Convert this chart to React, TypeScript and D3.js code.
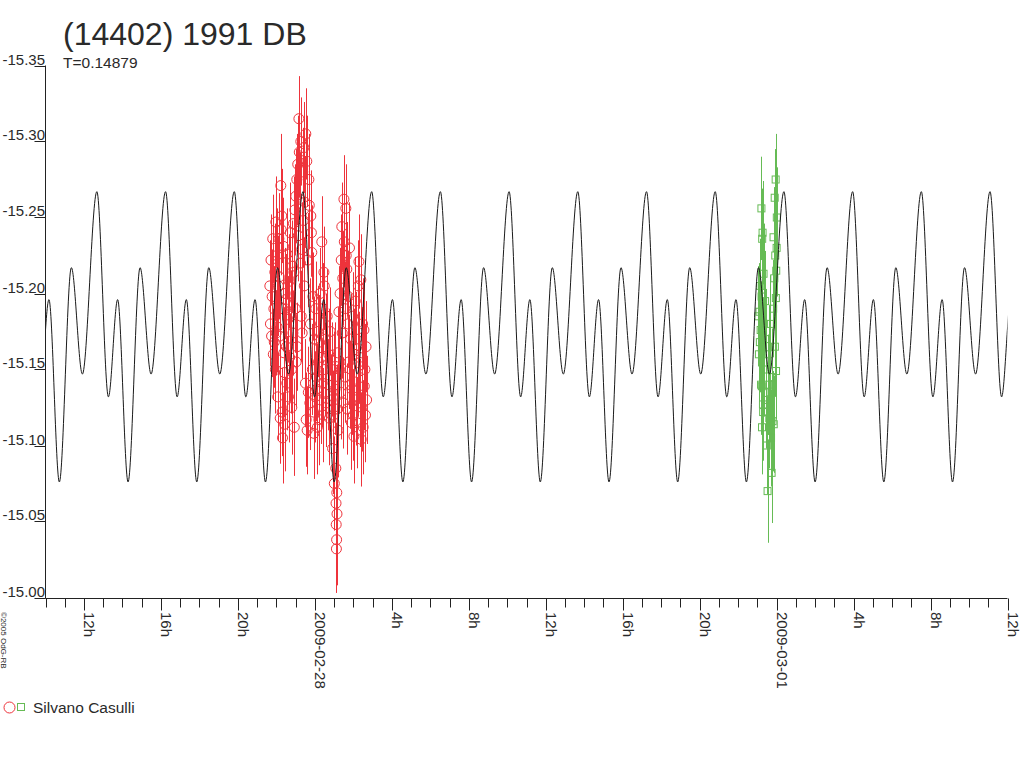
import React from "react";
import * as d3 from "d3";

// ---------- data ----------
const TITLE = "(14402) 1991 DB";
const PERIOD_DAYS = 0.14879;
const SUBTITLE = "T=0.14879";
const OBSERVER = "Silvano Casulli";
const COPYRIGHT = "©2005 OdG-RB";

const AXIS_START = "2009-02-27T10:00:00Z";
const AXIS_END = "2009-03-01T12:00:00Z";
const Y_MIN = -15.0;
const Y_MAX = -15.35;

// model light curve: one period, [hours after deep minimum, magnitude]
const MODEL_EPOCH_HOURS = 0.72; // deep minimum, hours after AXIS_START
const MODEL_PERIOD: [number, number][] = [
  [0, -15.076],
  [0.624, -15.217],
  [1.197, -15.147],
  [1.95, -15.267],
  [2.55, -15.132],
  [3.03, -15.196],
];

// session 1 (red circles): [hours from 2009-02-28 00:00 UT, mag, error]
const SESSION1_BASE = "2009-02-28T00:00:00Z";
const session1: [number, number, number][] = [
  [-2.34, -15.205, 0.03], [-2.31, -15.18, 0.028], [-2.28, -15.222, 0.03], [-2.25, -15.172, 0.027],
  [-2.22, -15.198, 0.031], [-2.19, -15.236, 0.029], [-2.16, -15.16, 0.03], [-2.13, -15.19, 0.028],
  [-2.11, -15.168, 0.03], [-2.08, -15.214, 0.032], [-2.05, -15.15, 0.029], [-2.03, -15.247, 0.03],
  [-2.01, -15.174, 0.028], [-1.98, -15.225, 0.031], [-1.96, -15.178, 0.03], [-1.93, -15.132, 0.029],
  [-1.9, -15.205, 0.033], [-1.87, -15.236, 0.03], [-1.85, -15.211, 0.028], [-1.83, -15.172, 0.031],
  [-1.8, -15.118, 0.03], [-1.77, -15.271, 0.034], [-1.75, -15.242, 0.03], [-1.72, -15.251, 0.031],
  [-1.7, -15.122, 0.029], [-1.68, -15.105, 0.03], [-1.66, -15.19, 0.028], [-1.63, -15.231, 0.032],
  [-1.61, -15.161, 0.03], [-1.59, -15.148, 0.029], [-1.57, -15.114, 0.031], [-1.54, -15.2, 0.03],
  [-1.51, -15.196, 0.03], [-1.48, -15.165, 0.029], [-1.46, -15.141, 0.031], [-1.43, -15.226, 0.03],
  [-1.4, -15.183, 0.028], [-1.37, -15.132, 0.03], [-1.34, -15.208, 0.031], [-1.31, -15.158, 0.029],
  [-1.28, -15.24, 0.033], [-1.25, -15.185, 0.03], [-1.22, -15.15, 0.029], [-1.2, -15.125, 0.031],
  [-1.17, -15.218, 0.03], [-1.14, -15.174, 0.028], [-1.11, -15.246, 0.031], [-1.09, -15.214, 0.03],
  [-1.07, -15.112, 0.032], [-1.04, -15.255, 0.03], [-1.01, -15.19, 0.029], [-0.99, -15.264, 0.031],
  [-0.97, -15.155, 0.03], [-0.94, -15.275, 0.03], [-0.92, -15.165, 0.029], [-0.89, -15.285, 0.032],
  [-0.86, -15.238, 0.03], [-0.83, -15.315, 0.028], [-0.81, -15.293, 0.03], [-0.78, -15.262, 0.031],
  [-0.75, -15.22, 0.03], [-0.73, -15.3, 0.029], [-0.71, -15.185, 0.03], [-0.68, -15.229, 0.031],
  [-0.66, -15.174, 0.03], [-0.63, -15.28, 0.029], [-0.6, -15.248, 0.031], [-0.57, -15.296, 0.03],
  [-0.55, -15.205, 0.032], [-0.52, -15.26, 0.03], [-0.49, -15.141, 0.029], [-0.47, -15.305, 0.03],
  [-0.45, -15.117, 0.031], [-0.42, -15.287, 0.03], [-0.4, -15.11, 0.029], [-0.37, -15.222, 0.031],
  [-0.34, -15.135, 0.03], [-0.31, -15.275, 0.03], [-0.29, -15.258, 0.029], [-0.26, -15.128, 0.031],
  [-0.23, -15.18, 0.03], [-0.21, -15.251, 0.03], [-0.18, -15.24, 0.029], [-0.16, -15.227, 0.031],
  [-0.13, -15.15, 0.03], [-0.1, -15.198, 0.029], [-0.07, -15.122, 0.031], [-0.05, -15.108, 0.03],
  [-0.02, -15.17, 0.028], [0.02, -15.132, 0.03], [0.05, -15.19, 0.031], [0.08, -15.145, 0.029],
  [0.1, -15.137, 0.03], [0.13, -15.112, 0.031], [0.16, -15.175, 0.03], [0.19, -15.155, 0.029],
  [0.21, -15.117, 0.03], [0.24, -15.168, 0.031], [0.27, -15.2, 0.03], [0.3, -15.13, 0.029],
  [0.33, -15.158, 0.031], [0.36, -15.234, 0.03], [0.38, -15.141, 0.029], [0.41, -15.19, 0.03],
  [0.44, -15.12, 0.031], [0.47, -15.214, 0.03], [0.49, -15.205, 0.029], [0.52, -15.15, 0.031],
  [0.56, -15.17, 0.03], [0.6, -15.128, 0.029], [0.64, -15.185, 0.031], [0.68, -15.14, 0.03],
  [0.72, -15.16, 0.03], [0.76, -15.118, 0.031], [0.8, -15.175, 0.029], [0.84, -15.13, 0.03],
  [0.88, -15.15, 0.031], [0.92, -15.098, 0.03], [0.96, -15.12, 0.029], [0.99, -15.145, 0.03],
  [1.01, -15.075, 0.031], [1.04, -15.137, 0.03], [1.07, -15.152, 0.029], [1.09, -15.085, 0.03],
  [1.1, -15.062, 0.028], [1.11, -15.048, 0.03], [1.12, -15.032, 0.029], [1.13, -15.038, 0.03],
  [1.14, -15.069, 0.031], [1.15, -15.055, 0.03], [1.16, -15.124, 0.029], [1.18, -15.161, 0.03],
  [1.21, -15.11, 0.031], [1.25, -15.188, 0.03], [1.28, -15.15, 0.029], [1.31, -15.2, 0.03],
  [1.34, -15.135, 0.031], [1.37, -15.222, 0.03], [1.4, -15.244, 0.029], [1.42, -15.174, 0.03],
  [1.45, -15.21, 0.031], [1.48, -15.128, 0.03], [1.51, -15.262, 0.029], [1.53, -15.234, 0.03],
  [1.56, -15.19, 0.031], [1.58, -15.145, 0.03], [1.61, -15.256, 0.029], [1.63, -15.225, 0.03],
  [1.66, -15.216, 0.031], [1.68, -15.124, 0.03], [1.71, -15.18, 0.029], [1.74, -15.198, 0.03],
  [1.77, -15.155, 0.031], [1.8, -15.23, 0.03], [1.83, -15.14, 0.029], [1.86, -15.17, 0.03],
  [1.9, -15.115, 0.031], [1.93, -15.137, 0.03], [1.96, -15.185, 0.029], [2.0, -15.12, 0.03],
  [2.03, -15.106, 0.031], [2.06, -15.16, 0.03], [2.1, -15.195, 0.029], [2.13, -15.13, 0.03],
  [2.16, -15.17, 0.031], [2.19, -15.115, 0.03], [2.22, -15.148, 0.029], [2.26, -15.205, 0.03],
  [2.29, -15.221, 0.031], [2.32, -15.158, 0.03], [2.35, -15.128, 0.029], [2.39, -15.209, 0.03],
  [2.41, -15.104, 0.031], [2.43, -15.161, 0.03], [2.45, -15.125, 0.029], [2.48, -15.18, 0.03],
  [2.51, -15.112, 0.031], [2.55, -15.176, 0.03], [2.57, -15.139, 0.029], [2.6, -15.15, 0.03],
  [2.63, -15.12, 0.031], [2.66, -15.165, 0.03], [2.69, -15.13, 0.029],
];

// session 2 (green squares): [hours from 2009-03-01 00:00 UT, mag, error]
const SESSION2_BASE = "2009-03-01T00:00:00Z";
const session2: [number, number, number][] = [
  [-0.95, -15.185, 0.033], [-0.92, -15.16, 0.031], [-0.89, -15.188, 0.032], [-0.87, -15.168, 0.033],
  [-0.85, -15.205, 0.031], [-0.83, -15.176, 0.032], [-0.81, -15.14, 0.033], [-0.79, -15.256, 0.034],
  [-0.78, -15.198, 0.032], [-0.77, -15.139, 0.033], [-0.76, -15.112, 0.031], [-0.75, -15.236, 0.033],
  [-0.73, -15.24, 0.034], [-0.72, -15.165, 0.032], [-0.71, -15.127, 0.033], [-0.7, -15.122, 0.032],
  [-0.68, -15.213, 0.033], [-0.66, -15.18, 0.032], [-0.63, -15.15, 0.031], [-0.6, -15.195, 0.033],
  [-0.57, -15.13, 0.032], [-0.54, -15.17, 0.033], [-0.51, -15.1, 0.032], [-0.47, -15.07, 0.034],
  [-0.44, -15.14, 0.033], [-0.41, -15.16, 0.032], [-0.38, -15.118, 0.033], [-0.35, -15.18, 0.032],
  [-0.32, -15.135, 0.033], [-0.29, -15.105, 0.032], [-0.26, -15.082, 0.033], [-0.24, -15.145, 0.032],
  [-0.21, -15.116, 0.033], [-0.18, -15.19, 0.032], [-0.16, -15.237, 0.033], [-0.15, -15.114, 0.032],
  [-0.12, -15.21, 0.033], [-0.1, -15.263, 0.032], [-0.09, -15.165, 0.033], [-0.07, -15.225, 0.032],
  [-0.05, -15.275, 0.03], [-0.04, -15.197, 0.033], [-0.03, -15.149, 0.032], [-0.02, -15.215, 0.033],
  [0.0, -15.23, 0.032], [0.01, -15.25, 0.033],
];

// ---------- styles ----------
const FONT = "'Liberation Sans', Arial, Helvetica, sans-serif";
const TEXT = "#2a2a2a";
const RED = "#ee333b";
const GREEN = "#66bb55";
const W = 1024;
const H = 768;
const LEFT = 45.5;
const RIGHT = 1007.5;
const TOP = 65.5;
const BOTTOM = 597.5;

const HOUR = 3600 * 1000;

export default function App() {
  const start = new Date(AXIS_START);
  const end = new Date(AXIS_END);
  const x = d3.scaleUtc().domain([start, end]).range([LEFT, RIGHT]);
  const y = d3.scaleLinear().domain([Y_MIN, Y_MAX]).range([BOTTOM, TOP]);

  const periodH = PERIOD_DAYS * 24;
  const modelPts: [Date, number][] = [];
  for (let k = -1; k <= 15; k++) {
    for (const [ph, m] of MODEL_PERIOD) {
      const t = start.getTime() + (MODEL_EPOCH_HOURS + k * periodH + ph) * HOUR;
      modelPts.push([new Date(t), m]);
    }
  }
  const line = d3
    .line<[Date, number]>()
    .x((d) => x(d[0]))
    .y((d) => y(d[1]))
    .curve(d3.curveMonotoneX);

  const b1 = new Date(SESSION1_BASE).getTime();
  const b2 = new Date(SESSION2_BASE).getTime();
  const s1 = session1.map(([h, m, e]) => ({ t: new Date(b1 + h * HOUR), m, e }));
  const s2 = session2.map(([h, m, e]) => ({ t: new Date(b2 + h * HOUR), m, e }));

  const hourTicks = x.ticks(d3.utcHour.every(1)!);
  const yTicks = y.ticks(7);

  const label = (d: Date) => {
    const hr = d.getUTCHours();
    return hr === 0 ? d3.utcFormat("%Y-%m-%d")(d) : `${hr}h`;
  };

  return (
    <svg
      width={W}
      height={H}
      viewBox={`0 0 ${W} ${H}`}
      style={{ position: "absolute", left: 0, top: 0, background: "#fff", display: "block" }}
      fontFamily={FONT}
    >
      <rect x={0} y={0} width={W} height={H} fill="#fff" />
      <defs>
        <clipPath id="plotclip">
          <rect x={LEFT} y={0} width={RIGHT - LEFT} height={H} />
        </clipPath>
      </defs>

      {/* title */}
      <text x={63} y={45} fontSize={32} fill={TEXT}>
        {TITLE}
      </text>
      <text x={63} y={68} fontSize={15.5} fill={TEXT}>
        {SUBTITLE}
      </text>

      {/* session 1 */}
      <g stroke={RED} fill="none" strokeWidth={1}>
        {s1.map((d, i) => (
          <line key={"e1" + i} x1={Math.round(x(d.t)) + 0.5} x2={Math.round(x(d.t)) + 0.5} y1={y(d.m - d.e)} y2={y(d.m + d.e)} />
        ))}
        {s1.map((d, i) => (
          <circle key={"c1" + i} cx={x(d.t)} cy={y(d.m)} r={5} />
        ))}
      </g>

      {/* session 2 */}
      <g stroke={GREEN} fill="none" strokeWidth={1}>
        {s2.map((d, i) => (
          <line key={"e2" + i} x1={Math.round(x(d.t)) + 0.5} x2={Math.round(x(d.t)) + 0.5} y1={y(d.m - d.e)} y2={y(d.m + d.e)} />
        ))}
        {s2.map((d, i) => (
          <rect key={"r2" + i} x={x(d.t) - 3.5} y={y(d.m) - 3.5} width={7} height={7} />
        ))}
      </g>

      {/* model curve */}
      <path d={line(modelPts) ?? ""} fill="none" stroke="#1a1a1a" strokeWidth={1} clipPath="url(#plotclip)" />

      {/* y axis */}
      <line x1={LEFT} x2={LEFT} y1={TOP} y2={BOTTOM + 1} stroke="#222" />
      {yTicks.map((v) => (
        <g key={"y" + v}>
          <line x1={34.5} x2={LEFT} y1={Math.round(y(v)) + 0.5} y2={Math.round(y(v)) + 0.5} stroke="#222" />
          <text x={45} y={Math.round(y(v)) - 1} fontSize={15} textAnchor="end" fill={TEXT}>
            {v.toFixed(2)}
          </text>
        </g>
      ))}

      {/* x axis */}
      <line x1={LEFT} x2={RIGHT} y1={BOTTOM + 1} y2={BOTTOM + 1} stroke="#222" />
      {hourTicks.map((d) => {
        const px = Math.round(x(d)) + 0.5;
        const major = d.getUTCHours() % 4 === 0;
        return (
          <g key={"x" + d.getTime()}>
            <line x1={px} x2={px} y1={BOTTOM + 1} y2={major ? BOTTOM + 13 : BOTTOM + 10} stroke="#222" />
            {major && (
              <text transform={`translate(${px - 0.5},612) rotate(90)`} fontSize={15} fill={TEXT}>
                {label(d)}
              </text>
            )}
          </g>
        );
      })}

      {/* copyright */}
      <text transform="translate(1,612) rotate(90)" fontSize={8} fill={TEXT}>
        {COPYRIGHT}
      </text>

      {/* legend */}
      <circle cx={9.5} cy={707.5} r={5.5} fill="none" stroke={RED} />
      <rect x={17.5} y={703.5} width={7} height={7} fill="none" stroke={GREEN} />
      <text x={33} y={713} fontSize={15.5} fill={TEXT}>
        {OBSERVER}
      </text>
    </svg>
  );
}
